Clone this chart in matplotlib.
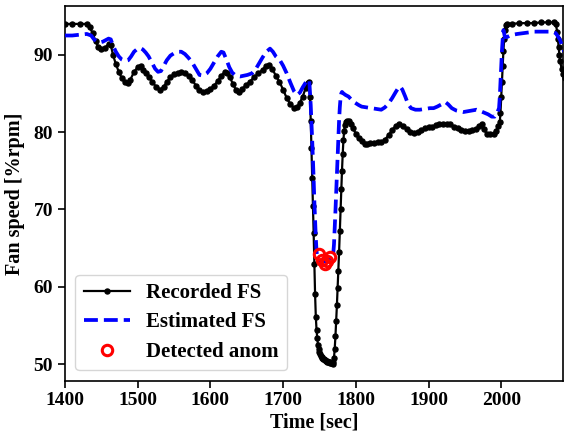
import matplotlib
matplotlib.use("Agg")
import matplotlib.pyplot as plt

rec_t = [1400, 1410, 1420, 1430, 1434, 1438, 1442, 1446, 1450, 1455, 1460, 1463, 1466, 1470, 1474, 1478, 1482, 1486,
         1490, 1495, 1500, 1504, 1508, 1512, 1516, 1520, 1525, 1531, 1536, 1540, 1545, 1550, 1555, 1560, 1565, 1570,
         1575, 1580, 1585, 1590, 1595, 1600, 1605, 1610, 1615, 1620, 1623, 1627, 1631, 1635, 1639, 1644, 1649, 1654,
         1660, 1666, 1672, 1677, 1681, 1685, 1690, 1695, 1700, 1705, 1710, 1715, 1719, 1723, 1727, 1731, 1734, 1736,
         1737, 1738, 1739, 1740, 1741, 1742, 1743, 1744, 1745, 1746, 1747, 1748, 1749, 1750, 1751, 1752, 1753, 1754,
         1755, 1756, 1757, 1758, 1759, 1760, 1761, 1762, 1763, 1764, 1765, 1766, 1767, 1768, 1769, 1770, 1771, 1772,
         1773, 1774, 1775, 1776, 1777, 1778, 1779, 1780, 1781, 1782, 1783, 1784, 1785, 1786, 1788, 1790, 1793, 1796,
         1800, 1804, 1808, 1812, 1816, 1820, 1825, 1830, 1835, 1840, 1845, 1850, 1855, 1860, 1865, 1870, 1875, 1880,
         1885, 1890, 1895, 1900, 1905, 1910, 1915, 1920, 1925, 1930, 1935, 1940, 1945, 1950, 1955, 1960, 1965, 1970,
         1973, 1976, 1980, 1985, 1990, 1993, 1996, 1998, 1999, 2000, 2001, 2002, 2003, 2004, 2005, 2006, 2008, 2015,
         2025, 2035, 2045, 2055, 2065, 2072, 2075, 2077, 2078, 2079, 2080, 2081, 2083, 2085, 2088]
rec_v = [94.0, 94.0, 94.0, 94.0, 93.6, 92.8, 91.8, 91.0, 90.8, 90.9, 91.4, 91.3, 90.0, 88.8, 87.8, 87.0, 86.5, 86.3,
         86.8, 87.8, 88.4, 88.5, 88.1, 87.6, 87.1, 86.5, 85.9, 85.5, 85.9, 86.5, 87.1, 87.5, 87.7, 87.8, 87.6, 87.3,
         86.8, 86.0, 85.5, 85.2, 85.3, 85.6, 86.0, 86.6, 87.3, 87.8, 87.7, 87.1, 86.2, 85.5, 85.2, 85.6, 86.1, 86.5,
         87.1, 87.6, 88.1, 88.6, 88.7, 88.2, 87.3, 86.5, 85.5, 84.4, 83.6, 83.1, 83.2, 83.8, 84.6, 85.7, 86.4, 86.5,
         84.5, 81.5, 78.0, 74.0, 70.5, 67.0, 63.0, 59.0, 56.1, 54.4, 53.3, 52.5, 52.0, 51.6, 51.3, 51.1, 50.9, 50.8,
         50.7, 50.6, 50.5, 50.5, 50.4, 50.4, 50.3, 50.3, 50.2, 50.2, 50.1, 50.1, 50.1, 50.0, 50.2, 50.8, 52.0, 53.6,
         55.5, 57.6, 59.8, 62.0, 64.5, 67.2, 70.0, 72.6, 75.0, 77.2, 79.0, 80.2, 80.9, 81.3, 81.5, 81.4, 81.0, 80.5,
         79.8, 79.2, 78.8, 78.5, 78.4, 78.6, 78.6, 78.7, 78.7, 79.0, 79.6, 80.3, 80.8, 81.0, 80.8, 80.4, 80.0, 79.9,
         80.0, 80.3, 80.5, 80.6, 80.7, 80.9, 81.0, 81.1, 81.1, 81.0, 80.7, 80.5, 80.3, 80.1, 80.1, 80.3, 80.4, 80.8,
         81.0, 80.4, 79.8, 79.7, 79.8, 80.2, 80.8, 81.3, 82.5, 84.5, 86.5, 88.5, 90.5, 92.0, 93.2, 93.8, 94.0, 94.0,
         94.1, 94.1, 94.1, 94.2, 94.2, 94.2, 94.0, 93.0, 92.0, 91.0, 90.0, 89.2, 88.2, 87.5, 87.0]

est_t = [1400, 1410, 1420, 1430, 1436, 1440, 1444, 1448, 1452, 1456, 1460, 1463, 1466, 1470, 1474, 1478, 1483, 1487,
         1491, 1495, 1500, 1503, 1507, 1511, 1515, 1520, 1524, 1528, 1532, 1536, 1540, 1545, 1550, 1555, 1560, 1565,
         1570, 1575, 1580, 1585, 1590, 1595, 1600, 1605, 1610, 1615, 1618, 1622, 1626, 1630, 1635, 1641, 1646, 1651,
         1657, 1662, 1667, 1672, 1677, 1682, 1686, 1690, 1695, 1700, 1705, 1710, 1715, 1719, 1723, 1727, 1731, 1734,
         1736, 1738, 1740, 1742, 1743, 1744, 1745, 1746, 1747, 1749, 1752, 1755, 1758, 1761, 1764, 1767, 1769,
         1770, 1771, 1772, 1773, 1774, 1775, 1776, 1777, 1778, 1779, 1780, 1781, 1783, 1786, 1790, 1795, 1799, 1804,
         1808, 1815, 1822, 1829, 1835, 1840, 1845, 1850, 1855, 1859, 1861, 1864, 1868, 1872, 1876, 1882, 1888, 1895,
         1902, 1907, 1912, 1918, 1923, 1927, 1932, 1938, 1943, 1948, 1954, 1960, 1966, 1972, 1977, 1982, 1987, 1991,
         1994, 1997, 1998, 1999, 2000, 2001, 2002, 2003, 2004, 2005, 2008, 2012, 2016, 2022, 2030, 2038, 2044, 2050,
         2058, 2065, 2071, 2075, 2078, 2081, 2084, 2088]
est_v = [92.5, 92.5, 92.6, 92.7, 92.5, 92.0, 91.7, 91.6, 91.7, 91.9, 92.1, 92.0, 91.2, 90.4, 89.8, 89.4, 89.2, 89.3,
         89.8, 90.4, 90.8, 90.9, 90.7, 90.3, 89.8, 88.9, 88.2, 87.8, 87.9, 88.6, 89.3, 89.9, 90.2, 90.4, 90.4, 90.1,
         89.6, 89.0, 88.2, 87.4, 87.3, 87.6, 88.2, 89.0, 89.8, 90.4, 90.3, 89.4, 88.4, 87.7, 87.3, 87.2, 87.3, 87.4,
         87.6, 88.1, 88.9, 89.7, 90.4, 90.8, 90.4, 89.8, 89.4, 88.6, 87.6, 86.4, 85.3, 84.8, 85.1, 85.8, 86.4, 86.8,
         86.7, 83.5, 79.0, 74.0, 71.0, 68.5, 66.3, 64.6, 63.8, 63.4, 63.2, 63.2, 63.3, 63.4, 63.6, 63.9, 64.3,
         65.5, 67.5, 69.8, 72.2, 74.8, 77.2, 79.5, 81.5, 83.2, 84.4, 85.0, 85.2, 85.0, 84.8, 84.6, 84.1, 83.8, 83.5,
         83.3, 83.2, 83.1, 83.0, 82.9, 83.2, 83.7, 84.4, 85.2, 85.8, 85.9, 85.5, 84.6, 83.6, 83.1, 82.9, 82.9, 83.0,
         83.1, 83.1, 83.3, 83.6, 83.9, 83.6, 83.1, 82.8, 82.7, 82.6, 82.7, 82.8, 82.9, 82.7, 82.5, 82.3, 82.0, 82.0,
         82.4, 83.1, 84.5, 86.5, 88.5, 90.5, 92.0, 93.2, 92.8, 92.3, 92.3, 92.5, 92.6, 92.7, 92.8, 92.9, 93.0, 93.0,
         93.0, 93.0, 93.0, 92.8, 92.4, 91.9, 91.0, 90.2]

anom_t = [1749, 1753, 1757, 1761, 1764]
anom_v = [64.2, 63.4, 63.0, 63.3, 63.8]

x_ticks = [1400, 1500, 1600, 1700, 1800, 1900, 2000]
y_ticks = [50, 60, 70, 80, 90]

plt.rcParams['font.family'] = ['Liberation Serif', 'DejaVu Serif']
plt.rcParams['font.weight'] = 'bold'

fig = plt.figure(figsize=(5.65, 4.38), dpi=100)
ax = fig.add_axes([0.115, 0.131, 0.8815, 0.855])

ax.plot(rec_t, rec_v, color='black', lw=1.6, marker='o', markersize=3.6, label='Recorded FS', zorder=2)
ax.plot(est_t, est_v, color='#0000ff', lw=2.7, linestyle='--', label='Estimated FS', zorder=3)
ax.plot(anom_t, anom_v, linestyle='none', marker='o', markersize=7.5, markerfacecolor='none',
        markeredgecolor='red', markeredgewidth=2.2, label='Detected anom', zorder=4)

ax.set_xlim(1400, 2085)
ax.set_ylim(47.85, 96.3)
ax.set_xticks(x_ticks)
ax.set_yticks(y_ticks)
ax.tick_params(labelsize=14, length=5, width=1.2)
for lab in ax.get_xticklabels() + ax.get_yticklabels():
    lab.set_fontweight('bold')
for s in ax.spines.values():
    s.set_linewidth(1.2)

ax.set_xlabel('Time [sec]', fontsize=14.5, fontweight='bold', labelpad=2)
ax.set_ylabel('Fan speed [%rpm]', fontsize=14.5, fontweight='bold', labelpad=6)

leg = ax.legend(loc='lower left', fontsize=15, handlelength=2.2, borderaxespad=0.5,
                labelspacing=0.45, handletextpad=0.8)
for t in leg.get_texts():
    t.set_fontweight('bold')

fig.savefig('out.png', dpi=100)
